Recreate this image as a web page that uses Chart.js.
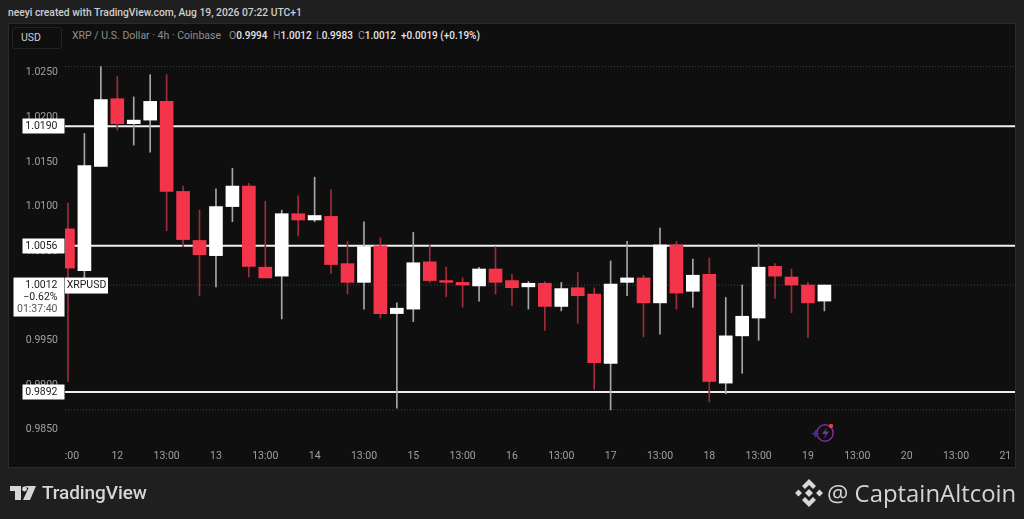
<!DOCTYPE html>
<html><head><meta charset="utf-8">
<script src="https://cdn.jsdelivr.net/npm/chart.js@4"></script>
<style>
html,body{margin:0;padding:0;background:#1f1f1f;width:1024px;height:519px;overflow:hidden;font-family:Roboto,sans-serif}
#pane{position:absolute;left:8px;top:23px;width:1006px;height:443px;background:#0f0f0f;border:1px solid #2b2b2b}
canvas{position:absolute;left:0;top:0}
.t{position:absolute;white-space:nowrap;font-size:10.5px;line-height:14px}
.g{color:#8f8f8f}.w{color:#e6e6e6;font-weight:500;font-size:10px}
#usd{position:absolute;left:12px;top:27px;width:48px;height:20px;border:1px solid #252525;border-radius:3px;color:#cfcfcf;font-size:10.5px;line-height:20px;text-indent:8px}
</style></head><body>
<div id="pane"></div>
<div class="t" style="left:8px;top:6px;color:#cfcfcf;font-size:10.3px;font-weight:500">neeyi created with TradingView.com, Aug 19, 2026 07:22 UTC+1</div>
<div id="usd">USD</div>
<div class="t g" style="left:72px;top:29px">XRP / U.S. Dollar · 4h · Coinbase</div>
<div class="t" style="left:229px;top:29px"><span class="g">O</span><span class="w">0.9994</span></div>
<div class="t" style="left:273px;top:29px"><span class="g">H</span><span class="w">1.0012</span></div>
<div class="t" style="left:316px;top:29px"><span class="g">L</span><span class="w">0.9983</span></div>
<div class="t" style="left:358px;top:29px"><span class="g">C</span><span class="w">1.0012</span></div>
<div class="t w" style="left:401px;top:29px">+0.0019 (+0.19%)</div>
<canvas id="c" width="1024" height="519"></canvas>
<svg style="position:absolute;left:10px;top:486px" width="27" height="14" viewBox="0 0 27 14"><path d="M0 0H11V14H5V5H0Z M14 0L19 0 L26 0 L20 14 H13 L18.5 2Z" fill="#d6d6d6"/><circle cx="14.5" cy="3" r="2.4" fill="#d6d6d6"/></svg>
<div class="t" style="left:42px;top:481px;font-size:19px;line-height:24px;font-weight:500;color:#d6d6d6;letter-spacing:-.1px">TradingView</div>
<svg style="position:absolute;left:794px;top:478px" width="30" height="30" viewBox="0 0 30 30" fill="#d8d8d8"><path d="M15 1l7 7-3 3-4-4-4 4-3-3z"/><path d="M15 29l7-7-3-3-4 4-4-4-3 3z"/><path d="M1 15l3.500-3.500 3.500 3.500-3.500 3.500z M22 15l3.500-3.500 3.500 3.500-3.500 3.500z M15 11l4 4-4 4-4-4z"/></svg>
<div class="t" style="left:827px;top:476px;font-size:23.9px;line-height:34px;color:#d4d4d4;font-family:'Open Sans',sans-serif">@ CaptainAltcoin</div>
<svg style="position:absolute;left:811px;top:421px" width="26" height="24" viewBox="0 0 26 24"><circle cx="14" cy="12" r="8.200" fill="none" stroke="#7b2f9e" stroke-width="1.500"/><path d="M16 6l-5 7h3.500l-2 5 5.500-7.500h-3.500z" fill="#7b2f9e"/><path d="M4.500 8.500l1.300 3 3 1.300-3 1.300-1.300 3-1.300-3-3-1.300 3-1.300z" fill="#4a2a9a"/><circle cx="20" cy="5" r="2.200" fill="#f23645"/></svg>
<script>
const opens =[1.0075,1.0028,1.0145,1.0221,1.0193,1.0197,1.0218,1.0117,1.0062,1.0045,1.0100,1.0123,1.0032,1.0022,1.0092,1.0085,1.0089,1.0036,1.0015,1.0056,0.9980,0.9985,1.0038,1.0017,1.0015,1.0011,1.0030,1.0017,1.0010,1.0014,0.9988,1.0009,1.0002,0.9924,1.0015,1.0020,0.9992,1.0057,1.0005,1.0024,0.9902,0.9955,0.9975,1.0033,1.0021,1.0012,0.9994];
const highs =[1.0104,1.0182,1.0257,1.0246,1.0223,1.0248,1.0248,1.0123,1.0096,1.0120,1.0143,1.0126,1.0106,1.0096,1.0112,1.0133,1.0119,1.0061,1.0083,1.0065,0.9992,1.0071,1.0057,1.0032,1.0020,1.0032,1.0055,1.0024,1.0016,1.0016,1.0015,1.0026,1.0009,1.0039,1.0061,1.0023,1.0076,1.0061,1.0041,1.0042,0.9998,1.0012,1.0058,1.0036,1.0030,1.0015,1.0012];
const lows  =[0.9904,1.0015,1.0145,1.0186,1.0169,1.0161,1.0073,1.0055,1.0000,1.0010,1.0083,1.0021,1.0020,0.9974,1.0067,1.0083,1.0025,1.0002,0.9985,0.9975,0.9874,0.9971,1.0015,0.9999,0.9987,0.9994,1.0002,0.9989,0.9985,0.9961,0.9983,0.9969,0.9895,0.9872,1.0000,0.9954,0.9957,0.9985,0.9987,0.9881,0.9890,0.9913,0.9950,0.9997,0.9981,0.9953,0.9983];
const closes=[1.0031,1.0146,1.0220,1.0193,1.0197,1.0218,1.0117,1.0063,1.0046,1.0100,1.0123,1.0033,1.0020,1.0092,1.0085,1.0090,1.0035,1.0015,1.0055,0.9980,0.9986,1.0037,1.0017,1.0015,1.0012,1.0030,1.0015,1.0009,1.0014,0.9988,1.0008,1.0000,0.9925,1.0013,1.0020,0.9992,1.0057,1.0003,1.0023,0.9904,0.9955,0.9977,1.0032,1.0022,1.0012,0.9992,1.0012];
const xTickPositions=[0,3,6,9,12,15,18,21,24,27,30,33,36,39,42,45,48,51,54,57];
const xTickLabels=["   :00","12","13:00","13","13:00","14","13:00","15","13:00","16","13:00","17","13:00","18","13:00","19","13:00","20","13:00","21"];
const yTickValues=[1.0250,1.0200,1.0150,1.0100,1.0050,1.0000,0.9950,0.9900,0.9850];
const levelValues=[1.0190,1.0056,0.9892];
const dottedValues=[1.0257,1.0012,0.9872];
const lastPrice=1.0012, lastChange="−0.62%", countdown="01:37:40", symbol="XRPUSD";
const xMin=-0.18,xMax=57.59,yMin=0.98337,yMax=1.03048;
const UP="#ffffff",DOWN="#f4344a",UPW="#a6a6a6",DOWNW="#a12a3c";
const isUp=i=>closes[i]>=opens[i];
const span=v=>[{x:xMin,y:v},{x:xMax,y:v}];
const boxes={id:'boxes',afterDraw(ch){
  const c=ch.ctx,y=ch.scales.y;c.save();c.textBaseline='middle';c.font='10.5px Roboto';
  levelValues.forEach(v=>{const p=y.getPixelForValue(v);
    c.fillStyle='#fff';c.fillRect(22.5,Math.round(p)-7.5,42,15);
    c.fillStyle='#1a1a1a';c.textAlign='right';c.fillText(v.toFixed(4),57.5,p+.5);});
  const p=y.getPixelForValue(lastPrice);
  c.fillStyle='#fff';c.fillRect(13.5,p-7.5,51,39);c.fillRect(65,p-7.5,43,16);
  c.textAlign='right';c.fillStyle='#1a1a1a';c.fillText(lastPrice.toFixed(4),57.5,p+.5);
  c.fillText(lastChange,57.5,p+12.5);c.fillStyle='#555';c.fillText(countdown,57.5,p+24.5);
  c.fillStyle='#1a1a1a';c.textAlign='center';c.fillText(symbol,86.5,p+.5);
  c.restore();}};
new Chart(document.getElementById('c'),{
  type:'bar',
  data:{datasets:[
    ...levelValues.map(v=>({type:'line',data:span(v),borderColor:'#f0f0f0',borderWidth:2,pointRadius:0,order:5})),
    ...dottedValues.map(v=>({type:'line',data:span(v),borderColor:'#444',borderWidth:1,borderDash:[1,2],pointRadius:0,order:6})),
    {data:opens.map((_,i)=>({x:i,y:[lows[i],highs[i]]})),grouped:false,barThickness:1,borderWidth:0,
     backgroundColor:opens.map((_,i)=>isUp(i)?UPW:DOWNW),order:2},
    {data:opens.map((o,i)=>({x:i,y:[o,closes[i]]})),grouped:false,barThickness:13,borderWidth:0,
     backgroundColor:opens.map((_,i)=>isUp(i)?UP:DOWN),order:1}
  ]},
  options:{responsive:false,animation:false,events:[],
    layout:{padding:{top:24,right:9,bottom:50,left:0}},
    plugins:{legend:{display:false},tooltip:{enabled:false},title:{display:false}},
    scales:{
      x:{type:'linear',offset:false,min:xMin,max:xMax,border:{display:false},grid:{display:false,drawTicks:false},
        afterBuildTicks(a){a.ticks=xTickPositions.map(v=>({value:v}));},
        afterFit(a){a.height=25;},
        ticks:{autoSkip:false,maxRotation:0,padding:6,color:'#a0a0a0',font:{family:'Roboto',size:10.5},
          callback:v=>xTickLabels[xTickPositions.indexOf(v)]}},
      y:{type:'linear',min:yMin,max:yMax,border:{display:false},grid:{display:false,drawTicks:false},
        afterBuildTicks(a){a.ticks=yTickValues.map(v=>({value:v}));},
        afterFit(a){a.width=65;},
        ticks:{padding:7,color:'#a0a0a0',font:{family:'Roboto',size:10.5},callback:v=>v.toFixed(4)}}
    }},
  plugins:[boxes]
});
</script>
</body></html>
